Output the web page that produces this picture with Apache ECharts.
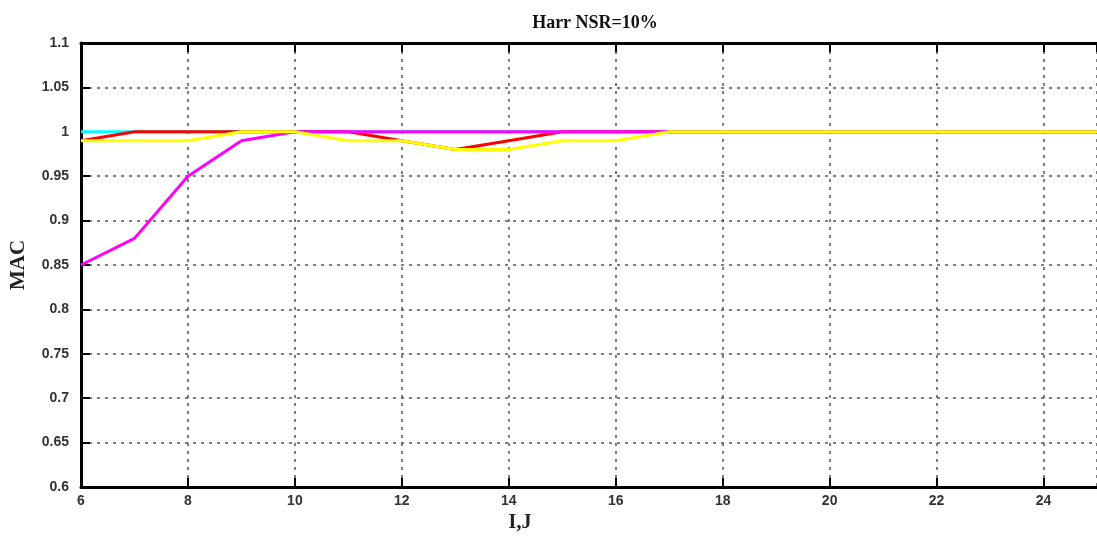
<!DOCTYPE html>
<html><head><meta charset="utf-8">
<script src="https://cdn.jsdelivr.net/npm/echarts@6/dist/echarts.min.js"></script>
<style>html,body{margin:0;padding:0;background:#fff}#c{width:1097px;height:546px}</style>
</head><body><div id="c"></div>
<script>
const xValues = [6,7,8,9,10,11,12,13,14,15,16,17,18,19,20,21,22,23,24,25];
const cyanSeries    = [1,1,1,1,1,1,1,1,1,1,1,1,1,1,1,1,1,1,1,1];
const redSeries     = [0.99,1,1,1,1,1,0.99,0.98,0.99,1,1,1,1,1,1,1,1,1,1,1];
const magentaSeries = [0.85,0.88,0.95,0.99,1,1,1,1,1,1,1,1,1,1,1,1,1,1,1,1];
const yellowSeries  = [0.99,0.99,0.99,1,1,0.99,0.99,0.98,0.98,0.99,0.99,1,1,1,1,1,1,1,1,1];
const seriesNames = ['cyan','red','magenta','yellow'];
const seriesColors = ['#00ffff','#ff0000','#ff00ff','#ffff00'];
const allData = [cyanSeries, redSeries, magentaSeries, yellowSeries];

const grid = {left:80, top:43, right:0, bottom:59};
const gridStyle = {show:true, lineStyle:{color:'#555', width:1.5, type:[3,5]}};
const labelFont = {color:'#333', fontWeight:'bold', fontFamily:'Liberation Sans', fontSize:14};

const chart = echarts.init(document.getElementById('c'), null, {renderer:'canvas'});
chart.setOption({
  animation:false,
  title:{text:'Harr NSR=10%', left:590, top:9, textAlign:'center',
    textStyle:{fontFamily:'Liberation Serif', fontWeight:'bold', fontSize:18, color:'#111'}},
  grid: grid,
  xAxis:[{
    type:'value', min:6, max:25, interval:2,
    name:'I,J', nameLocation:'middle', nameGap:25,
    nameTextStyle:{fontFamily:'Liberation Serif', fontWeight:'bold', fontSize:20, color:'#222', padding:[0,138,0,0]},
    axisLine:{lineStyle:{color:'#000', width:3}},
    axisTick:{inside:true, length:9, lineStyle:{color:'#000', width:2}},
    axisLabel:Object.assign({margin:7, showMaxLabel:false}, labelFont),
    splitLine:gridStyle
  },{
    type:'value', min:6, max:25, interval:2, position:'top',
    axisLine:{lineStyle:{color:'#000', width:3}},
    axisTick:{inside:true, length:9, lineStyle:{color:'#000', width:2}},
    axisLabel:{show:false}, splitLine:{show:false}
  }],
  yAxis:{
    type:'value', min:0.6, max:1.1, interval:0.05,
    name:'MAC', nameLocation:'middle', nameGap:52, nameRotate:90,
    nameTextStyle:{fontFamily:'Liberation Serif', fontWeight:'bold', fontSize:21, color:'#222'},
    axisLine:{show:true, lineStyle:{color:'#000', width:3}},
    axisTick:{show:true, inside:true, length:9, lineStyle:{color:'#000', width:2}},
    axisLabel:Object.assign({margin:12, formatter:v=>String(+v.toFixed(2))}, labelFont),
    splitLine:gridStyle
  },
  series: allData.map((d,i)=>({
    name:seriesNames[i], type:'line', xAxisIndex:0,
    data:xValues.map((x,j)=>[x,d[j]]),
    showSymbol:false, lineStyle:{color:seriesColors[i], width:3},
    itemStyle:{color:seriesColors[i]}, z:2+i
  }))
});
</script></body></html>
